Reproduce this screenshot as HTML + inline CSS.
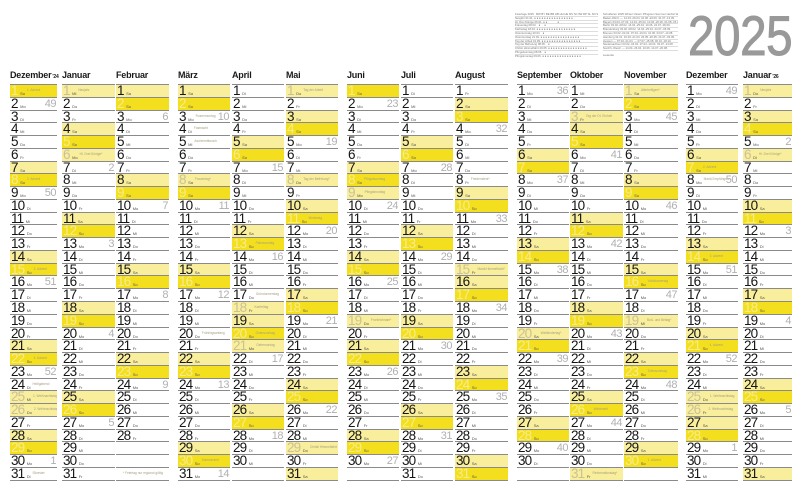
<!DOCTYPE html>
<html><head><meta charset="utf-8">
<style>
*{margin:0;padding:0}
body{width:800px;height:499px;position:relative;overflow:hidden;background:#fff;font-family:"Liberation Sans",Arial,sans-serif}
.c{position:absolute;top:84px;border-top:1px solid #8a8a8a}
.c h6{position:absolute;top:-15px;left:0;font-size:9px;line-height:10px;font-weight:bold;color:#1a1a1a;white-space:nowrap;letter-spacing:-0.2px}
.c h6 small{font-size:5px;margin-left:1px;letter-spacing:-0.2px}
.c p{height:12.77px;box-sizing:border-box;border-bottom:1px solid #8a8a8a;position:relative;font-size:13.5px;line-height:11px;padding-left:1px;white-space:nowrap;overflow:hidden;color:#151515}
.c b{font-weight:normal;letter-spacing:-0.9px}
.c i{font-style:normal;font-size:4px;line-height:0;color:#555;margin-left:2.5px;letter-spacing:0}
.c s{text-decoration:none;font-size:3.2px;line-height:0;color:#a8a080;margin-left:2px;vertical-align:4px}
.c em{font-style:normal;position:absolute;right:1px;top:1px;font-size:11px;line-height:11px;color:#b0b0b0;letter-spacing:-0.5px}
.c p.s{background:#f8ee9c}
.c p.u{background:#f3df1e}
.c p.h{background:#f8ee9c}
.c p.u b{color:#f7ec8c}
.c p.h b{color:#cbc197}
.yr{position:absolute;left:688px;top:7.6px;font-size:56px;line-height:56px;color:#999;-webkit-text-stroke:1px #999;transform:scaleX(0.85);transform-origin:0 0;letter-spacing:-0.5px}
.tb{position:absolute;font-size:2.8px;line-height:2.8px;color:#777;overflow:hidden;white-space:nowrap}
.tb div{height:2.8px;border-bottom:0.3px solid #ddd}
</style></head><body>

<div class="yr">2025</div>

<div class="tb" style="left:515px;top:13px;width:83px;height:45px">
<div>Feiertage 2025 &nbsp; BW BY BE BB HB HH HE MV NI NW RP SL SN ST SH TH</div>
<div>Neujahr 01.01. ● ● ● ● ● ● ● ● ● ● ● ● ● ● ● ●</div>
<div>Hl. Drei Könige 06.01. ● ● &nbsp; &nbsp; &nbsp; &nbsp; &nbsp; &nbsp; ● &nbsp;</div>
<div>Frauentag 08.03. &nbsp; ● &nbsp; &nbsp; ● &nbsp; &nbsp; &nbsp; &nbsp;</div>
<div>Karfreitag 18.04. ● ● ● ● ● ● ● ● ● ● ● ● ● ● ● ●</div>
<div>Ostersonntag 20.04. &nbsp; ● &nbsp; &nbsp; &nbsp; &nbsp; &nbsp; &nbsp;</div>
<div>Ostermontag 21.04. ● ● ● ● ● ● ● ● ● ● ● ● ● ● ● ●</div>
<div>Tag der Arbeit 01.05. ● ● ● ● ● ● ● ● ● ● ● ● ● ● ● ●</div>
<div>Tag der Befreiung 08.05. &nbsp; ● &nbsp; &nbsp; &nbsp; &nbsp;</div>
<div>Christi Himmelfahrt 29.05. ● ● ● ● ● ● ● ● ● ● ● ● ● ● ● ●</div>
<div>Pfingstsonntag 08.06. &nbsp; ● &nbsp; &nbsp; &nbsp; &nbsp;</div>
<div>Pfingstmontag 09.06. ● ● ● ● ● ● ● ● ● ● ● ● ● ● ● ●</div>
<div>Fronleichnam 19.06. ● ● &nbsp; &nbsp; ● &nbsp; ● ● ● ● &nbsp; ●</div>
<div>Mariä Himmelfahrt 15.08. &nbsp; ● &nbsp; &nbsp; &nbsp; &nbsp; ● &nbsp;</div>
<div>Weltkindertag 20.09. &nbsp; &nbsp; &nbsp; &nbsp; &nbsp; &nbsp; &nbsp; ●</div>
<div>Tag d. Dt. Einheit 03.10. ● ● ● ● ● ● ● ● ● ● ● ● ● ● ● ●</div>
</div>

<div class="tb" style="left:603px;top:13px;width:75px;height:43px">
<div>Schulferien 2025 Winter Ostern Pfingsten Sommer Herbst Weihn.</div>
<div>Baden-Württ. — 14.04.-26.04. 10.06.-20.06. 31.07.-13.09.</div>
<div>Bayern 03.03.-07.03. 14.04.-25.04. 10.06.-20.06. 01.08.-15.09.</div>
<div>Berlin 03.02.-08.02. 14.04.-25.04. 10.06. 24.07.-06.09.</div>
<div>Brandenburg 03.02.-08.02. 14.04.-25.04. 24.07.-06.09.</div>
<div>Bremen 03.02.-04.02. 07.04.-19.04. 10.06. 03.07.-13.08.</div>
<div>Hamburg 31.01. 10.03.-21.03. 26.05.-30.05. 24.07.-03.09.</div>
<div>Hessen — 07.04.-21.04. — 07.07.-15.08. 06.10.-18.10.</div>
<div>Niedersachsen 03.02.-04.02. 07.04.-19.04. 03.07.-13.08.</div>
<div>Nordrh.-Westf. — 14.04.-26.04. 10.06. 14.07.-26.08.</div>
<div style="border:0">&nbsp;</div>
<div style="border:0">Legende</div>
<div>● gesetzlicher Feiertag * nur regional</div>
<div>Angaben ohne Gewähr — Stand 2024 ———————————</div>
<div>————————————————————————</div>
</div>

<!-- Dezember 2024 -->
<div class="c" style="left:10px;width:47px">
<h6>Dezember<small>'24</small></h6>
<p class="u"><b>1</b><i>So</i><s>1. Advent</s></p>
<p><b>2</b><i>Mo</i><em>49</em></p>
<p><b>3</b><i>Di</i></p>
<p><b>4</b><i>Mi</i></p>
<p><b>5</b><i>Do</i></p>
<p><b>6</b><i>Fr</i></p>
<p class="s"><b>7</b><i>Sa</i></p>
<p class="u"><b>8</b><i>So</i><s>2. Advent</s></p>
<p><b>9</b><i>Mo</i><em>50</em></p>
<p><b>10</b><i>Di</i></p>
<p><b>11</b><i>Mi</i></p>
<p><b>12</b><i>Do</i></p>
<p><b>13</b><i>Fr</i></p>
<p class="s"><b>14</b><i>Sa</i></p>
<p class="u"><b>15</b><i>So</i><s>3. Advent</s></p>
<p><b>16</b><i>Mo</i><em>51</em></p>
<p><b>17</b><i>Di</i></p>
<p><b>18</b><i>Mi</i></p>
<p><b>19</b><i>Do</i></p>
<p><b>20</b><i>Fr</i></p>
<p class="s"><b>21</b><i>Sa</i></p>
<p class="u"><b>22</b><i>So</i><s>4. Advent</s></p>
<p><b>23</b><i>Mo</i><em>52</em></p>
<p><b>24</b><i>Di</i><s>Heiligabend</s></p>
<p class="h"><b>25</b><i>Mi</i><s>1. Weihnachtstag</s></p>
<p class="h"><b>26</b><i>Do</i><s>2. Weihnachtstag</s></p>
<p><b>27</b><i>Fr</i></p>
<p class="s"><b>28</b><i>Sa</i></p>
<p class="u"><b>29</b><i>So</i></p>
<p><b>30</b><i>Mo</i><em>1</em></p>
<p><b>31</b><i>Di</i><s>Silvester</s></p>
</div>

<!-- Januar -->
<div class="c" style="left:62px;width:53px">
<h6>Januar</h6>
<p class="h"><b>1</b><i>Mi</i><s>Neujahr</s></p>
<p><b>2</b><i>Do</i></p>
<p><b>3</b><i>Fr</i></p>
<p class="s"><b>4</b><i>Sa</i></p>
<p class="u"><b>5</b><i>So</i></p>
<p class="h"><b>6</b><i>Mo</i><s>Hl. Drei Könige*</s></p>
<p><b>7</b><i>Di</i><em>2</em></p>
<p><b>8</b><i>Mi</i></p>
<p><b>9</b><i>Do</i></p>
<p><b>10</b><i>Fr</i></p>
<p class="s"><b>11</b><i>Sa</i></p>
<p class="u"><b>12</b><i>So</i></p>
<p><b>13</b><i>Mo</i><em>3</em></p>
<p><b>14</b><i>Di</i></p>
<p><b>15</b><i>Mi</i></p>
<p><b>16</b><i>Do</i></p>
<p><b>17</b><i>Fr</i></p>
<p class="s"><b>18</b><i>Sa</i></p>
<p class="u"><b>19</b><i>So</i></p>
<p><b>20</b><i>Mo</i><em>4</em></p>
<p><b>21</b><i>Di</i></p>
<p><b>22</b><i>Mi</i></p>
<p><b>23</b><i>Do</i></p>
<p><b>24</b><i>Fr</i></p>
<p class="s"><b>25</b><i>Sa</i></p>
<p class="u"><b>26</b><i>So</i></p>
<p><b>27</b><i>Mo</i><em>5</em></p>
<p><b>28</b><i>Di</i></p>
<p><b>29</b><i>Mi</i></p>
<p><b>30</b><i>Do</i></p>
<p><b>31</b><i>Fr</i></p>
</div>

<!-- Februar -->
<div class="c" style="left:116px;width:53px">
<h6>Februar</h6>
<p class="s"><b>1</b><i>Sa</i></p>
<p class="u"><b>2</b><i>So</i></p>
<p><b>3</b><i>Mo</i><em>6</em></p>
<p><b>4</b><i>Di</i></p>
<p><b>5</b><i>Mi</i></p>
<p><b>6</b><i>Do</i></p>
<p><b>7</b><i>Fr</i></p>
<p class="s"><b>8</b><i>Sa</i></p>
<p class="u"><b>9</b><i>So</i></p>
<p><b>10</b><i>Mo</i><em>7</em></p>
<p><b>11</b><i>Di</i></p>
<p><b>12</b><i>Mi</i></p>
<p><b>13</b><i>Do</i></p>
<p><b>14</b><i>Fr</i></p>
<p class="s"><b>15</b><i>Sa</i></p>
<p class="u"><b>16</b><i>So</i></p>
<p><b>17</b><i>Mo</i><em>8</em></p>
<p><b>18</b><i>Di</i></p>
<p><b>19</b><i>Mi</i></p>
<p><b>20</b><i>Do</i></p>
<p><b>21</b><i>Fr</i></p>
<p class="s"><b>22</b><i>Sa</i></p>
<p class="u"><b>23</b><i>So</i></p>
<p><b>24</b><i>Mo</i><em>9</em></p>
<p><b>25</b><i>Di</i></p>
<p><b>26</b><i>Mi</i></p>
<p><b>27</b><i>Do</i></p>
<p><b>28</b><i>Fr</i></p>
<p></p>
<p></p>
<p><s style="margin-left:6px">* Feiertag nur regional gültig</s></p>
</div>

<!-- März -->
<div class="c" style="left:178px;width:52px">
<h6>März</h6>
<p class="s"><b>1</b><i>Sa</i></p>
<p class="u"><b>2</b><i>So</i></p>
<p><b>3</b><i>Mo</i><s>Rosenmontag</s><em>10</em></p>
<p><b>4</b><i>Di</i><s>Fastnacht</s></p>
<p><b>5</b><i>Mi</i><s>Aschermittwoch</s></p>
<p><b>6</b><i>Do</i></p>
<p><b>7</b><i>Fr</i></p>
<p class="h"><b>8</b><i>Sa</i><s>Frauentag*</s></p>
<p class="u"><b>9</b><i>So</i></p>
<p><b>10</b><i>Mo</i><em>11</em></p>
<p><b>11</b><i>Di</i></p>
<p><b>12</b><i>Mi</i></p>
<p><b>13</b><i>Do</i></p>
<p><b>14</b><i>Fr</i></p>
<p class="s"><b>15</b><i>Sa</i></p>
<p class="u"><b>16</b><i>So</i></p>
<p><b>17</b><i>Mo</i><em>12</em></p>
<p><b>18</b><i>Di</i></p>
<p><b>19</b><i>Mi</i></p>
<p><b>20</b><i>Do</i><s>Frühlingsanfang</s></p>
<p><b>21</b><i>Fr</i></p>
<p class="s"><b>22</b><i>Sa</i></p>
<p class="u"><b>23</b><i>So</i></p>
<p><b>24</b><i>Mo</i><em>13</em></p>
<p><b>25</b><i>Di</i></p>
<p><b>26</b><i>Mi</i></p>
<p><b>27</b><i>Do</i></p>
<p><b>28</b><i>Fr</i></p>
<p class="s"><b>29</b><i>Sa</i></p>
<p class="u"><b>30</b><i>So</i><s>Sommerzeit</s></p>
<p><b>31</b><i>Mo</i><em>14</em></p>
</div>

<!-- April -->
<div class="c" style="left:232px;width:52px">
<h6>April</h6>
<p><b>1</b><i>Di</i></p>
<p><b>2</b><i>Mi</i></p>
<p><b>3</b><i>Do</i></p>
<p><b>4</b><i>Fr</i></p>
<p class="s"><b>5</b><i>Sa</i></p>
<p class="u"><b>6</b><i>So</i></p>
<p><b>7</b><i>Mo</i><em>15</em></p>
<p><b>8</b><i>Di</i></p>
<p><b>9</b><i>Mi</i></p>
<p><b>10</b><i>Do</i></p>
<p><b>11</b><i>Fr</i></p>
<p class="s"><b>12</b><i>Sa</i></p>
<p class="u"><b>13</b><i>So</i><s>Palmsonntag</s></p>
<p><b>14</b><i>Mo</i><em>16</em></p>
<p><b>15</b><i>Di</i></p>
<p><b>16</b><i>Mi</i></p>
<p><b>17</b><i>Do</i><s>Gründonnerstag</s></p>
<p class="h"><b>18</b><i>Fr</i><s>Karfreitag</s></p>
<p class="s"><b>19</b><i>Sa</i></p>
<p class="u"><b>20</b><i>So</i><s>Ostersonntag</s></p>
<p class="h"><b>21</b><i>Mo</i><s>Ostermontag</s></p>
<p><b>22</b><i>Di</i><em>17</em></p>
<p><b>23</b><i>Mi</i></p>
<p><b>24</b><i>Do</i></p>
<p><b>25</b><i>Fr</i></p>
<p class="s"><b>26</b><i>Sa</i></p>
<p class="u"><b>27</b><i>So</i></p>
<p><b>28</b><i>Mo</i><em>18</em></p>
<p><b>29</b><i>Di</i></p>
<p><b>30</b><i>Mi</i></p>
<p></p>
</div>

<!-- Mai -->
<div class="c" style="left:286px;width:52px">
<h6>Mai</h6>
<p class="h"><b>1</b><i>Do</i><s>Tag der Arbeit</s></p>
<p><b>2</b><i>Fr</i></p>
<p class="s"><b>3</b><i>Sa</i></p>
<p class="u"><b>4</b><i>So</i></p>
<p><b>5</b><i>Mo</i><em>19</em></p>
<p><b>6</b><i>Di</i></p>
<p><b>7</b><i>Mi</i></p>
<p class="h"><b>8</b><i>Do</i><s>Tag der Befreiung*</s></p>
<p><b>9</b><i>Fr</i></p>
<p class="s"><b>10</b><i>Sa</i></p>
<p class="u"><b>11</b><i>So</i><s>Muttertag</s></p>
<p><b>12</b><i>Mo</i><em>20</em></p>
<p><b>13</b><i>Di</i></p>
<p><b>14</b><i>Mi</i></p>
<p><b>15</b><i>Do</i></p>
<p><b>16</b><i>Fr</i></p>
<p class="s"><b>17</b><i>Sa</i></p>
<p class="u"><b>18</b><i>So</i></p>
<p><b>19</b><i>Mo</i><em>21</em></p>
<p><b>20</b><i>Di</i></p>
<p><b>21</b><i>Mi</i></p>
<p><b>22</b><i>Do</i></p>
<p><b>23</b><i>Fr</i></p>
<p class="s"><b>24</b><i>Sa</i></p>
<p class="u"><b>25</b><i>So</i></p>
<p><b>26</b><i>Mo</i><em>22</em></p>
<p><b>27</b><i>Di</i></p>
<p><b>28</b><i>Mi</i></p>
<p class="h"><b>29</b><i>Do</i><s>Christi Himmelfahrt</s></p>
<p><b>30</b><i>Fr</i></p>
<p class="s"><b>31</b><i>Sa</i></p>
</div>

<!-- Juni -->
<div class="c" style="left:347px;width:52px">
<h6>Juni</h6>
<p class="u"><b>1</b><i>So</i></p>
<p><b>2</b><i>Mo</i><em>23</em></p>
<p><b>3</b><i>Di</i></p>
<p><b>4</b><i>Mi</i></p>
<p><b>5</b><i>Do</i></p>
<p><b>6</b><i>Fr</i></p>
<p class="s"><b>7</b><i>Sa</i></p>
<p class="u"><b>8</b><i>So</i><s>Pfingstsonntag</s></p>
<p class="h"><b>9</b><i>Mo</i><s>Pfingstmontag</s></p>
<p><b>10</b><i>Di</i><em>24</em></p>
<p><b>11</b><i>Mi</i></p>
<p><b>12</b><i>Do</i></p>
<p><b>13</b><i>Fr</i></p>
<p class="s"><b>14</b><i>Sa</i></p>
<p class="u"><b>15</b><i>So</i></p>
<p><b>16</b><i>Mo</i><em>25</em></p>
<p><b>17</b><i>Di</i></p>
<p><b>18</b><i>Mi</i></p>
<p class="h"><b>19</b><i>Do</i><s>Fronleichnam*</s></p>
<p><b>20</b><i>Fr</i></p>
<p class="s"><b>21</b><i>Sa</i></p>
<p class="u"><b>22</b><i>So</i></p>
<p><b>23</b><i>Mo</i><em>26</em></p>
<p><b>24</b><i>Di</i></p>
<p><b>25</b><i>Mi</i></p>
<p><b>26</b><i>Do</i></p>
<p><b>27</b><i>Fr</i></p>
<p class="s"><b>28</b><i>Sa</i></p>
<p class="u"><b>29</b><i>So</i></p>
<p><b>30</b><i>Mo</i><em>27</em></p>
<p></p>
</div>

<!-- Juli -->
<div class="c" style="left:401px;width:52px">
<h6>Juli</h6>
<p><b>1</b><i>Di</i></p>
<p><b>2</b><i>Mi</i></p>
<p><b>3</b><i>Do</i></p>
<p><b>4</b><i>Fr</i></p>
<p class="s"><b>5</b><i>Sa</i></p>
<p class="u"><b>6</b><i>So</i></p>
<p><b>7</b><i>Mo</i><em>28</em></p>
<p><b>8</b><i>Di</i></p>
<p><b>9</b><i>Mi</i></p>
<p><b>10</b><i>Do</i></p>
<p><b>11</b><i>Fr</i></p>
<p class="s"><b>12</b><i>Sa</i></p>
<p class="u"><b>13</b><i>So</i></p>
<p><b>14</b><i>Mo</i><em>29</em></p>
<p><b>15</b><i>Di</i></p>
<p><b>16</b><i>Mi</i></p>
<p><b>17</b><i>Do</i></p>
<p><b>18</b><i>Fr</i></p>
<p class="s"><b>19</b><i>Sa</i></p>
<p class="u"><b>20</b><i>So</i></p>
<p><b>21</b><i>Mo</i><em>30</em></p>
<p><b>22</b><i>Di</i></p>
<p><b>23</b><i>Mi</i></p>
<p><b>24</b><i>Do</i></p>
<p><b>25</b><i>Fr</i></p>
<p class="s"><b>26</b><i>Sa</i></p>
<p class="u"><b>27</b><i>So</i></p>
<p><b>28</b><i>Mo</i><em>31</em></p>
<p><b>29</b><i>Di</i></p>
<p><b>30</b><i>Mi</i></p>
<p><b>31</b><i>Do</i></p>
</div>

<!-- August -->
<div class="c" style="left:455px;width:53px">
<h6>August</h6>
<p><b>1</b><i>Fr</i></p>
<p class="s"><b>2</b><i>Sa</i></p>
<p class="u"><b>3</b><i>So</i></p>
<p><b>4</b><i>Mo</i><em>32</em></p>
<p><b>5</b><i>Di</i></p>
<p><b>6</b><i>Mi</i></p>
<p><b>7</b><i>Do</i></p>
<p><b>8</b><i>Fr</i><s>Friedensfest*</s></p>
<p class="s"><b>9</b><i>Sa</i></p>
<p class="u"><b>10</b><i>So</i></p>
<p><b>11</b><i>Mo</i><em>33</em></p>
<p><b>12</b><i>Di</i></p>
<p><b>13</b><i>Mi</i></p>
<p><b>14</b><i>Do</i></p>
<p class="h"><b>15</b><i>Fr</i><s>Mariä Himmelfahrt*</s></p>
<p class="s"><b>16</b><i>Sa</i></p>
<p class="u"><b>17</b><i>So</i></p>
<p><b>18</b><i>Mo</i><em>34</em></p>
<p><b>19</b><i>Di</i></p>
<p><b>20</b><i>Mi</i></p>
<p><b>21</b><i>Do</i></p>
<p><b>22</b><i>Fr</i></p>
<p class="s"><b>23</b><i>Sa</i></p>
<p class="u"><b>24</b><i>So</i></p>
<p><b>25</b><i>Mo</i><em>35</em></p>
<p><b>26</b><i>Di</i></p>
<p><b>27</b><i>Mi</i></p>
<p><b>28</b><i>Do</i></p>
<p><b>29</b><i>Fr</i></p>
<p class="s"><b>30</b><i>Sa</i></p>
<p class="u"><b>31</b><i>So</i></p>
</div>

<!-- September -->
<div class="c" style="left:517px;width:52px">
<h6>September</h6>
<p><b>1</b><i>Mo</i><em>36</em></p>
<p><b>2</b><i>Di</i></p>
<p><b>3</b><i>Mi</i></p>
<p><b>4</b><i>Do</i></p>
<p><b>5</b><i>Fr</i></p>
<p class="s"><b>6</b><i>Sa</i></p>
<p class="u"><b>7</b><i>So</i></p>
<p><b>8</b><i>Mo</i><em>37</em></p>
<p><b>9</b><i>Di</i></p>
<p><b>10</b><i>Mi</i></p>
<p><b>11</b><i>Do</i></p>
<p><b>12</b><i>Fr</i></p>
<p class="s"><b>13</b><i>Sa</i></p>
<p class="u"><b>14</b><i>So</i></p>
<p><b>15</b><i>Mo</i><em>38</em></p>
<p><b>16</b><i>Di</i></p>
<p><b>17</b><i>Mi</i></p>
<p><b>18</b><i>Do</i></p>
<p><b>19</b><i>Fr</i></p>
<p class="h"><b>20</b><i>Sa</i><s>Weltkindertag*</s></p>
<p class="u"><b>21</b><i>So</i></p>
<p><b>22</b><i>Mo</i><em>39</em></p>
<p><b>23</b><i>Di</i></p>
<p><b>24</b><i>Mi</i></p>
<p><b>25</b><i>Do</i></p>
<p><b>26</b><i>Fr</i></p>
<p class="s"><b>27</b><i>Sa</i></p>
<p class="u"><b>28</b><i>So</i></p>
<p><b>29</b><i>Mo</i><em>40</em></p>
<p><b>30</b><i>Di</i></p>
<p></p>
</div>

<!-- Oktober -->
<div class="c" style="left:570px;width:53px">
<h6>Oktober</h6>
<p><b>1</b><i>Mi</i></p>
<p><b>2</b><i>Do</i></p>
<p class="h"><b>3</b><i>Fr</i><s>Tag der Dt. Einheit</s></p>
<p class="s"><b>4</b><i>Sa</i></p>
<p class="u"><b>5</b><i>So</i></p>
<p><b>6</b><i>Mo</i><em>41</em></p>
<p><b>7</b><i>Di</i></p>
<p><b>8</b><i>Mi</i></p>
<p><b>9</b><i>Do</i></p>
<p><b>10</b><i>Fr</i></p>
<p class="s"><b>11</b><i>Sa</i></p>
<p class="u"><b>12</b><i>So</i></p>
<p><b>13</b><i>Mo</i><em>42</em></p>
<p><b>14</b><i>Di</i></p>
<p><b>15</b><i>Mi</i></p>
<p><b>16</b><i>Do</i></p>
<p><b>17</b><i>Fr</i></p>
<p class="s"><b>18</b><i>Sa</i></p>
<p class="u"><b>19</b><i>So</i></p>
<p><b>20</b><i>Mo</i><em>43</em></p>
<p><b>21</b><i>Di</i></p>
<p><b>22</b><i>Mi</i></p>
<p><b>23</b><i>Do</i></p>
<p><b>24</b><i>Fr</i></p>
<p class="s"><b>25</b><i>Sa</i></p>
<p class="u"><b>26</b><i>So</i><s>Winterzeit</s></p>
<p><b>27</b><i>Mo</i><em>44</em></p>
<p><b>28</b><i>Di</i></p>
<p><b>29</b><i>Mi</i></p>
<p><b>30</b><i>Do</i></p>
<p class="h"><b>31</b><i>Fr</i><s>Reformationstag*</s></p>
</div>

<!-- November -->
<div class="c" style="left:624px;width:54px">
<h6>November</h6>
<p class="h"><b>1</b><i>Sa</i><s>Allerheiligen*</s></p>
<p class="u"><b>2</b><i>So</i></p>
<p><b>3</b><i>Mo</i><em>45</em></p>
<p><b>4</b><i>Di</i></p>
<p><b>5</b><i>Mi</i></p>
<p><b>6</b><i>Do</i></p>
<p><b>7</b><i>Fr</i></p>
<p class="s"><b>8</b><i>Sa</i></p>
<p class="u"><b>9</b><i>So</i></p>
<p><b>10</b><i>Mo</i><em>46</em></p>
<p><b>11</b><i>Di</i></p>
<p><b>12</b><i>Mi</i></p>
<p><b>13</b><i>Do</i></p>
<p><b>14</b><i>Fr</i></p>
<p class="s"><b>15</b><i>Sa</i></p>
<p class="u"><b>16</b><i>So</i><s>Volkstrauertag</s></p>
<p><b>17</b><i>Mo</i><em>47</em></p>
<p><b>18</b><i>Di</i></p>
<p class="h"><b>19</b><i>Mi</i><s>Buß- und Bettag*</s></p>
<p><b>20</b><i>Do</i></p>
<p><b>21</b><i>Fr</i></p>
<p class="s"><b>22</b><i>Sa</i></p>
<p class="u"><b>23</b><i>So</i><s>Totensonntag</s></p>
<p><b>24</b><i>Mo</i><em>48</em></p>
<p><b>25</b><i>Di</i></p>
<p><b>26</b><i>Mi</i></p>
<p><b>27</b><i>Do</i></p>
<p><b>28</b><i>Fr</i></p>
<p class="s"><b>29</b><i>Sa</i></p>
<p class="u"><b>30</b><i>So</i><s>1. Advent</s></p>
<p></p>
</div>

<!-- Dezember 2025 -->
<div class="c" style="left:686px;width:52px">
<h6>Dezember</h6>
<p><b>1</b><i>Mo</i><em>49</em></p>
<p><b>2</b><i>Di</i></p>
<p><b>3</b><i>Mi</i></p>
<p><b>4</b><i>Do</i></p>
<p><b>5</b><i>Fr</i></p>
<p class="s"><b>6</b><i>Sa</i></p>
<p class="u"><b>7</b><i>So</i><s>2. Advent</s></p>
<p><b>8</b><i>Mo</i><s>Mariä Empfängnis</s><em>50</em></p>
<p><b>9</b><i>Di</i></p>
<p><b>10</b><i>Mi</i></p>
<p><b>11</b><i>Do</i></p>
<p><b>12</b><i>Fr</i></p>
<p class="s"><b>13</b><i>Sa</i></p>
<p class="u"><b>14</b><i>So</i><s>3. Advent</s></p>
<p><b>15</b><i>Mo</i><em>51</em></p>
<p><b>16</b><i>Di</i></p>
<p><b>17</b><i>Mi</i></p>
<p><b>18</b><i>Do</i></p>
<p><b>19</b><i>Fr</i></p>
<p class="s"><b>20</b><i>Sa</i></p>
<p class="u"><b>21</b><i>So</i><s>4. Advent</s></p>
<p><b>22</b><i>Mo</i><em>52</em></p>
<p><b>23</b><i>Di</i></p>
<p><b>24</b><i>Mi</i></p>
<p class="h"><b>25</b><i>Do</i><s>1. Weihnachtstag</s></p>
<p class="h"><b>26</b><i>Fr</i><s>2. Weihnachtstag</s></p>
<p class="s"><b>27</b><i>Sa</i></p>
<p class="u"><b>28</b><i>So</i></p>
<p><b>29</b><i>Mo</i><em>1</em></p>
<p><b>30</b><i>Di</i></p>
<p><b>31</b><i>Mi</i></p>
</div>

<!-- Januar 2026 -->
<div class="c" style="left:743px;width:49px">
<h6>Januar<small>'26</small></h6>
<p class="h"><b>1</b><i>Do</i><s>Neujahr</s></p>
<p><b>2</b><i>Fr</i></p>
<p class="s"><b>3</b><i>Sa</i></p>
<p class="u"><b>4</b><i>So</i></p>
<p><b>5</b><i>Mo</i><em>2</em></p>
<p class="h"><b>6</b><i>Di</i><s>Hl. Drei Könige*</s></p>
<p><b>7</b><i>Mi</i></p>
<p><b>8</b><i>Do</i></p>
<p><b>9</b><i>Fr</i></p>
<p class="s"><b>10</b><i>Sa</i></p>
<p class="u"><b>11</b><i>So</i></p>
<p><b>12</b><i>Mo</i><em>3</em></p>
<p><b>13</b><i>Di</i></p>
<p><b>14</b><i>Mi</i></p>
<p><b>15</b><i>Do</i></p>
<p><b>16</b><i>Fr</i></p>
<p class="s"><b>17</b><i>Sa</i></p>
<p class="u"><b>18</b><i>So</i></p>
<p><b>19</b><i>Mo</i><em>4</em></p>
<p><b>20</b><i>Di</i></p>
<p><b>21</b><i>Mi</i></p>
<p><b>22</b><i>Do</i></p>
<p><b>23</b><i>Fr</i></p>
<p class="s"><b>24</b><i>Sa</i></p>
<p class="u"><b>25</b><i>So</i></p>
<p><b>26</b><i>Mo</i><em>5</em></p>
<p><b>27</b><i>Di</i></p>
<p><b>28</b><i>Mi</i></p>
<p><b>29</b><i>Do</i></p>
<p><b>30</b><i>Fr</i></p>
<p class="s"><b>31</b><i>Sa</i></p>
</div>

</body></html>
